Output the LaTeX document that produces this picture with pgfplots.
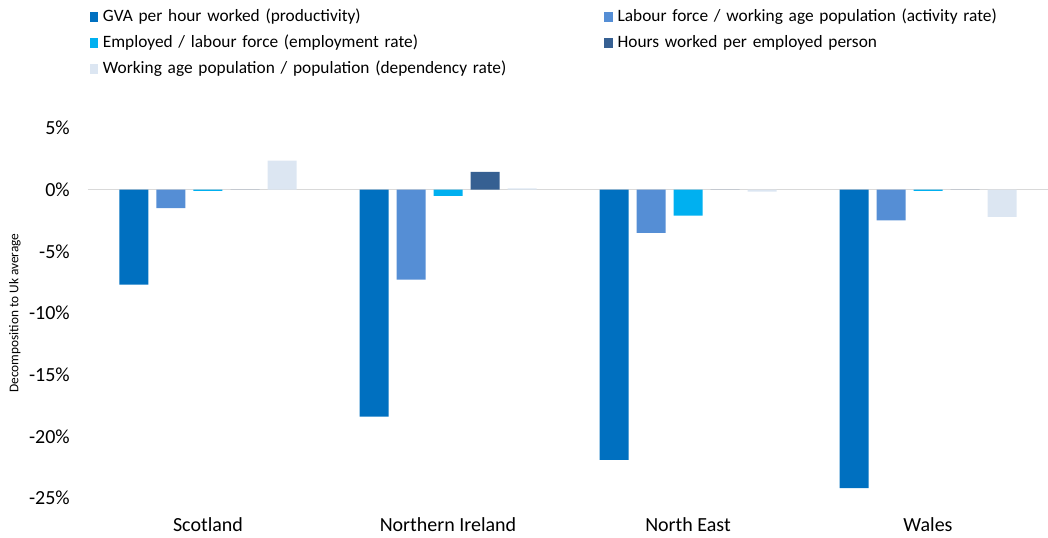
\documentclass[border=0pt]{standalone}
\usepackage{pgfplots}
\pgfplotsset{compat=1.18}
\usepackage{fontspec}
\setmainfont{Carlito}
\definecolor{cGVA}{RGB}{0,112,192}
\definecolor{cLab}{RGB}{85,142,213}
\definecolor{cEmp}{RGB}{0,176,240}
\definecolor{cHrs}{RGB}{54,96,146}
\definecolor{cDep}{RGB}{220,230,242}
\begin{document}
\begin{tikzpicture}
\useasboundingbox (-66pt,-30pt) rectangle (720pt,373.5pt);
\begin{axis}[
  at={(0,0)}, anchor=south west,
  scale only axis, width=720pt, height=277.5pt,
  xmin=-0.5, xmax=3.5, ymin=-25, ymax=5,
  ybar=6pt, bar width=21.75pt,
  axis line style={draw=none},
  major tick length=0pt,
  xtick={0,1,2,3},
  xticklabels={Scotland, Northern Ireland, North East, Wales},
  ytick={-25,-20,-15,-10,-5,0,5},
  yticklabel={\pgfmathprintnumber{\tick}\%},
  /pgf/number format/assume math mode=true,
  tick label style={font=\fontsize{15}{17}\selectfont},
  xticklabel style={anchor=base, inner sep=0pt, yshift=-25pt},
  yticklabel style={anchor=east, inner sep=0pt, xshift=-13.5pt},
  extra y ticks={0}, extra y tick labels={},
  extra y tick style={grid=major, major grid style={draw={rgb,255:red,217;green,217;blue,217}, line width=1pt}},
  ylabel={Decomposition to Uk average},
  every axis y label/.style={at={(axis description cs:0,0.5)}, xshift=-54.75pt, anchor=center, rotate=90, font=\fontsize{10}{12}\selectfont},
  legend columns=2,
  legend image code/.code={\fill[#1] (0pt,-3.75pt) rectangle (6.5pt,3.75pt);},
  legend style={at={(axis description cs:0,1)}, anchor=north west, xshift=1pt, yshift=89.1pt,
    draw=none, fill=none, inner sep=0pt, row sep=7.8pt,
    font=\fontsize{13}{15}\selectfont,
    nodes={inner sep=0pt, text height=9pt, text depth=2.7pt},
    /tikz/every odd column/.append style={column sep=3.5pt},
    /tikz/every even column/.append style={text width=376pt}},
  legend cell align=left,
]
\addplot[fill=cGVA, draw=none] coordinates {(0,-7.7) (1,-18.4) (2,-21.9) (3,-24.2)};
\addlegendentry{GVA per hour worked (productivity)}
\addplot[fill=cLab, draw=none] coordinates {(0,-1.5) (1,-7.3) (2,-3.5) (3,-2.5)};
\addlegendentry{Labour force / working age population (activity rate)}
\addplot[fill=cEmp, draw=none] coordinates {(0,-0.1) (1,-0.5) (2,-2.1) (3,-0.1)};
\addlegendentry{Employed / labour force (employment rate)}
\addplot[fill=cHrs, draw=none] coordinates {(0,0) (1,1.45) (2,0) (3,0)};
\addlegendentry{Hours worked per employed person}
\addplot[fill=cDep, draw=none] coordinates {(0,2.35) (1,0.1) (2,-0.15) (3,-2.2)};
\addlegendentry{Working age population / population (dependency rate)}
\end{axis}
\end{tikzpicture}
\end{document}
